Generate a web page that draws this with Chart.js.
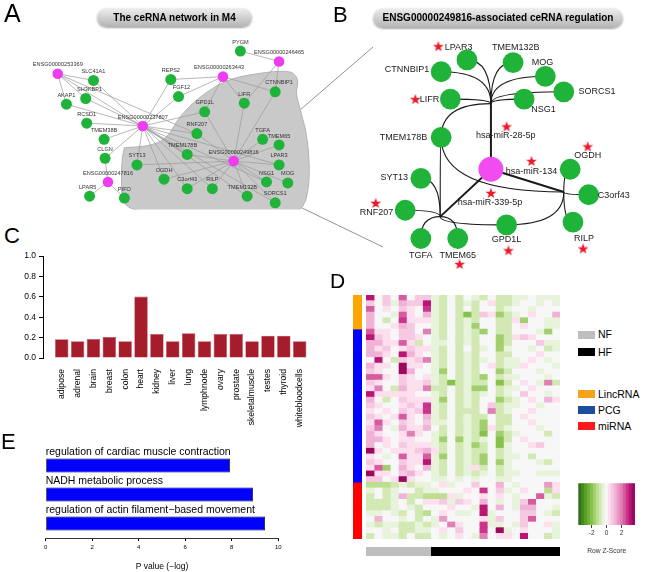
<!DOCTYPE html>
<html>
<head>
<meta charset="utf-8">
<title>ceRNA network in M4</title>
<script src="https://cdn.jsdelivr.net/npm/chart.js@4.4.1/dist/chart.umd.min.js"></script>
<style>
  body { margin: 0; background: #fff; }
  #fig { position: relative; width: 650px; height: 572px; overflow: hidden; font-family: "Liberation Sans", Arial, sans-serif; color: #000; }
  #fig canvas, #fig .txt, #fig svg { position: absolute; }
  .panel { line-height: 1; }
  .bubble { border-radius: 10px; text-align: center; font-weight: bold; font-size: 10px;
            background: linear-gradient(#efefef, #b3b3b3); box-shadow: 0 1px 2px rgba(0,0,0,0.35); }
  .key { width: 17px; height: 8px; }
  .keytxt { font-size: 10.5px; line-height: 12px; }
</style>
</head>
<body>
<div id="fig">
  <svg width="650" height="572" style="left:0;top:0">
    <line x1="300" y1="110" x2="373" y2="47" stroke="#777" stroke-width="0.8"/>
    <line x1="300" y1="207" x2="383" y2="247" stroke="#777" stroke-width="0.8"/>
  </svg>

  <canvas id="netA" width="330" height="215" style="left:0;top:0"></canvas>
  <canvas id="netB" width="320" height="282" style="left:330px;top:0"></canvas>
  <canvas id="barC" width="320" height="180" style="left:0;top:248px"></canvas>
  <canvas id="rowAnn" width="9" height="244" style="left:353px;top:295px"></canvas>
  <canvas id="heat" width="194" height="244" style="left:366px;top:295px"></canvas>
  <canvas id="colAnn" width="194" height="9" style="left:366px;top:547px"></canvas>
  <canvas id="zKey" width="75" height="75" style="left:570px;top:480px"></canvas>
  <canvas id="barE" width="330" height="132" style="left:0;top:440px"></canvas>

  <div class="txt panel" style="left:4px;top:1px;font-size:25px">A</div>
  <div class="txt panel" style="left:333px;top:4px;font-size:22px">B</div>
  <div class="txt panel" style="left:4px;top:225px;font-size:22px">C</div>
  <div class="txt panel" style="left:330px;top:270px;font-size:21px">D</div>
  <div class="txt panel" style="left:1px;top:431px;font-size:22px">E</div>

  <div class="txt bubble" style="left:97px;top:8px;width:155px;height:19px;line-height:19px">The ceRNA network in M4</div>
  <div class="txt bubble" style="left:373px;top:8px;width:250px;height:20px;line-height:20px">ENSG00000249816-associated ceRNA regulation</div>

  <div class="txt key" style="left:578px;top:331px;background:#bebebe"></div>
  <div class="txt keytxt" style="left:598px;top:328px">NF</div>
  <div class="txt key" style="left:578px;top:348px;background:#000"></div>
  <div class="txt keytxt" style="left:598px;top:346px">HF</div>
  <div class="txt key" style="left:578px;top:390px;background:#f7a21b"></div>
  <div class="txt keytxt" style="left:598px;top:388px">LincRNA</div>
  <div class="txt key" style="left:578px;top:406px;background:#1d4d9f"></div>
  <div class="txt keytxt" style="left:598px;top:404px">PCG</div>
  <div class="txt key" style="left:578px;top:422px;background:#ff1a1a"></div>
  <div class="txt keytxt" style="left:598px;top:420px">miRNA</div>
</div>

<script>
// ---------- data ----------

// A: ceRNA network in module M4
const lincA = ['ENSG00000253369', 'ENSG00000263443', 'ENSG00000246465', 'ENSG00000237807', 'ENSG00000249816', 'ENSG00000247816'];
const pcgA = ['PYGM', 'SLC41A1', 'REPS2', 'CTNNBIP1', 'SH3KBP1', 'FGF12', 'AKAP1', 'LIFR', 'GPD1L', 'RCSD1', 'RNF207',
  'TMEM38B', 'TGFA', 'TMEM65', 'TMEM178B', 'CLGN', 'SYT13', 'LPAR3', 'OGDH', 'C3orf43', 'RILP', 'NSG1', 'MOG',
  'TMEM132B', 'SORCS1', 'LPAR5', 'PIFO'];
const linksA = {
  'ENSG00000253369': ['SLC41A1', 'SH3KBP1', 'AKAP1', 'RNF207', 'TMEM178B'],
  'ENSG00000237807': ['SLC41A1', 'SH3KBP1', 'AKAP1', 'RCSD1', 'TMEM38B', 'CLGN', 'REPS2', 'FGF12', 'GPD1L', 'RNF207',
    'TMEM178B', 'SYT13', 'OGDH', 'C3orf43', 'RILP', 'TMEM132B', 'NSG1', 'SORCS1', 'LPAR3'],
  'ENSG00000263443': ['REPS2', 'FGF12', 'GPD1L', 'LIFR', 'CTNNBIP1'],
  'ENSG00000246465': ['PYGM', 'CTNNBIP1', 'LIFR'],
  'ENSG00000249816': ['GPD1L', 'RNF207', 'TMEM178B', 'SYT13', 'OGDH', 'C3orf43', 'RILP', 'TGFA', 'TMEM65', 'LPAR3',
    'NSG1', 'MOG', 'TMEM132B', 'SORCS1', 'CTNNBIP1', 'LIFR'],
  'ENSG00000247816': ['CLGN', 'LPAR5', 'PIFO']
};

// B: miRNAs shared by ENSG00000249816 and its partner genes
const hubB = 'ENSG00000249816';
const mirnaB = ['hsa-miR-28-5p', 'hsa-miR-134', 'hsa-miR-339-5p'];
const targetsB = {
  'hsa-miR-28-5p': ['LPAR3', 'TMEM132B', 'CTNNBIP1', 'MOG', 'SORCS1', 'NSG1', 'LIFR', 'TMEM178B'],
  'hsa-miR-134': ['OGDH', 'C3orf43', 'RILP', 'TMEM178B', 'GPD1L'],
  'hsa-miR-339-5p': ['SYT13', 'RNF207', 'TGFA', 'TMEM65', 'TMEM178B', 'GPD1L']
};
const genesB = ['LPAR3', 'TMEM132B', 'CTNNBIP1', 'MOG', 'SORCS1', 'NSG1', 'LIFR', 'TMEM178B', 'OGDH', 'SYT13',
  'C3orf43', 'RNF207', 'RILP', 'GPD1L', 'TGFA', 'TMEM65'];
const starredB = ['LPAR3', 'LIFR', 'OGDH', 'RNF207', 'RILP', 'GPD1L', 'TMEM65', 'hsa-miR-28-5p', 'hsa-miR-134', 'hsa-miR-339-5p'];

// C: tissue specificity
const tissues = ['adipose', 'adrenal', 'brain', 'breast', 'colon', 'heart', 'kidney', 'liver', 'lung', 'lymphnode',
  'ovary', 'prostate', 'skeletalmuscle', 'testes', 'thyroid', 'whitebloodcells'];
const tissueScore = [0.184, 0.165, 0.187, 0.206, 0.165, 0.603, 0.235, 0.165, 0.242, 0.165, 0.235, 0.235, 0.165, 0.219, 0.219, 0.165];

// D: heatmap, rows = RNAs, columns = samples (row z-scores)
const rowGroups = ['LincRNA', 'PCG', 'miRNA'];
const rowGroupSizes = [6, 27, 10];
const sampleGroups = ['NF', 'HF'];
const sampleGroupSizes = [8, 16];
const zScores = [
  [3.2,0,0.8,0,2.2,0,0.8,0.8, -0.3,-0.7,0,-0.7,0,-0.3,-0.7,0, -0.7,-0.7,-0.3,-0.3,0,-0.3,-0.3,-0.3],
  [0.8,0,0.8,-0.3,1.4,0.8,0.8,3.2, -0.3,-0.7,0,-0.7,-0.3,-0.7,0,0.4, -0.7,-0.7,-0.3,0,0,-0.3,0,-0.3],
  [2.2,0,0.4,0,0.8,0.4,0,2.6, -0.3,-0.7,0,-0.7,0,-0.7,0,0, -0.7,-0.3,0,0,-0.3,0,0,0],
  [1.4,0,0,-0.3,2.2,0.4,0,1.4, -0.3,-0.7,0,-0.7,-2.2,-0.7,0.8,0.4, -1.5,-0.7,-0.3,0,0.4,0,0,1.4],
  [1.4,0,-0.7,0,2.6,0.4,0.4,0.4, -0.3,-0.7,0,-0.7,-0.3,-0.7,0,0, -0.7,-0.7,0.4,-1.5,0,0,-0.3,-0.3],
  [1.4,0,0,0.4,1.4,0.8,0,0, -0.3,-0.7,0,-0.7,-0.3,-1.5,0,0, -0.7,-0.7,0,0.4,0,0,-0.3,-0.3],
  [2.2,0.4,0.4,0,0.8,0.8,0,1.8, -0.3,-0.7,0,-0.7,-0.3,-0.7,-1.5,0, -0.7,-0.7,0,0,0,-0.3,-1.5,0],
  [3.2,0.8,0.4,0,0.8,0.8,0.4,0, -0.3,-0.7,0,-0.7,-0.3,-0.7,0,0, -1.5,-0.7,0.4,0.8,0.4,0,0,0],
  [1.4,1.0,0.4,0.4,2.2,0.4,-0.7,0, -0.3,-0.3,0,-0.7,-0.3,-0.7,0,0, -1.5,-0.7,0,0,0,0.8,-0.3,-0.3],
  [1.0,0.4,0.8,0,0.4,0.8,0.4,0.4, -0.3,-0.7,0,-0.7,0,-0.7,-0.3,0, -1.5,-0.3,0,0,-0.3,0,-0.7,-0.3],
  [1.0,1.0,0.4,0,3.2,1.4,0.4,0, -0.3,-0.7,0,-0.7,-0.3,-0.7,0,0, -0.7,-0.7,0,0,0,0.4,0,0],
  [0,3.0,0,-0.7,0.8,0.4,0.8,2.0, -0.3,-0.7,0,-0.7,-0.3,-0.7,-0.3,0, -0.7,-0.3,-0.3,0,0.4,0,-0.3,0],
  [1.4,0.4,0.4,0,3.4,0.4,0.4,0, -0.3,-0.7,0,-0.7,-0.3,-0.7,0,0.4, -0.7,-0.3,-0.3,0.4,0,0,0,-0.3],
  [0.8,0.4,0,0,3.4,1.4,0,0, -0.3,-1.5,0,-0.7,-0.3,-0.7,0,0, -1.5,-0.7,0,0,0,-0.3,0,0],
  [2.2,2.2,0.4,0,0.8,0.4,0,0.4, -0.3,-0.7,0,-0.7,-0.3,-0.7,-1.5,0, -0.7,-0.3,-0.3,0,0,0,-0.3,0],
  [0.8,0.4,0,0,0.8,0.4,0.4,0.8, -0.3,-0.7,-2.2,-0.7,-0.3,-0.7,-0.7,0, -2.2,-0.7,0,0.4,0,-0.3,2.0,-1.0],
  [0.4,1.8,0,-0.7,1.0,0.4,0.4,1.8, -0.7,-0.7,0,-0.7,-0.3,-1.5,-1.5,0, -0.7,-0.3,-0.3,0,0.4,0,0,0],
  [3.2,0.4,0.4,0.4,0.4,0.4,0,0, -0.3,-0.7,0,-0.7,-0.3,-0.7,-0.3,0, -0.7,-0.3,0,0.8,0,0,-0.3,0],
  [1.4,0,-0.7,0,0.8,0.4,0.4,0.4, -0.3,-1.5,0,-0.7,-0.3,-0.7,0,0, -1.5,-0.7,-0.3,0,0.4,0,1.4,0.4],
  [0.8,0.4,0,0,0.4,0.8,0.4,2.6, -0.3,-0.7,0,-0.7,-0.3,-0.7,0,0.8, -0.7,-0.3,-0.3,0,0,-0.3,0,0],
  [0.4,0,0.4,0,0.8,0.4,0.8,2.6, -0.3,-0.7,0,-0.7,-0.7,-0.7,0,2.0, -0.7,-0.3,0,0,0.4,0,0,0],
  [0.8,0.4,0,0.4,2.2,0.4,0,1.4, -0.3,-0.7,0,-0.7,-0.3,-0.7,-1.0,0, -0.7,-0.7,0,0.4,0,0,0,0],
  [0.4,2.2,0.4,0,0.8,0.4,0,0.8, -0.3,-0.3,0,-0.7,-0.3,-0.7,-1.5,0, -1.0,-0.7,0,0,0.4,0,0,0],
  [0.8,2.0,0,-0.3,1.4,0.4,0.4,1.4, 0,-0.7,0,-0.7,-0.3,-0.7,-1.5,0.4, -0.7,-0.3,0,0,0,-0.3,0,0],
  [1.4,0.4,0,0,0.4,1.8,0.4,0, -0.3,-0.7,0,-0.7,-0.3,-0.7,-2.2,0, -1.8,-0.7,-0.3,0,0,0,-0.7,0],
  [1.4,1.0,0.4,0,0.4,0.4,0,0, -0.3,-1.5,0,-1.5,-0.3,-0.7,-0.3,0, -2.0,-0.7,0,0.4,0,0,0,0],
  [1.0,0,0.4,0,0.8,0.4,0.4,0.4, -0.3,-0.7,0,-0.7,-0.3,-1.5,-0.7,0, -2.0,-0.3,0,0,0.4,0.8,0,0],
  [3.4,0.4,0,0.4,0.4,0.4,0.8,1.0, 0.4,-0.7,0,-0.7,-0.3,-0.7,-1.0,0, -0.7,-0.3,0,0,0,0,0,0],
  [0.4,0,-0.3,0,2.2,0.4,0.4,2.2, -0.3,-1.5,0,-0.7,-0.3,-0.7,-1.5,0, -0.7,-0.3,-0.3,0,-0.7,0,0,0],
  [0.8,0.4,0,0,0.8,0.4,0.4,3.0, -0.3,-0.7,0,-0.7,-0.3,-0.7,-1.5,0, -1.5,-0.3,0,0,0,-0.3,-0.7,0],
  [0.4,2.2,-1.5,0,1.4,0.4,0,1.0, -0.3,-0.7,0,-0.7,-0.3,0.4,-1.0,0, -0.7,-0.3,0,0,0,0,0,0],
  [3.4,0.4,0.4,0,0.8,1.0,0.4,0, -0.3,-0.7,0,-0.7,-0.3,-0.7,-0.3,0, -0.7,-0.3,-0.3,0,0,-0.3,-0.3,-0.3],
  [0.8,0.8,0,0.4,3.4,0.4,0,0, -0.3,-0.3,0,-0.3,0,-0.3,0,0, -0.3,-0.3,0,0,0,0,0,0],
  [-1.2,-1.2,-1.2,-0.7,-0.3,-0.7,-0.3,-0.3, 0,0.4,-0.3,0,0,0.8,0,0, 1.4,0,-0.3,0,0,0,1.6,0.4],
  [-0.3,0,-0.7,-0.3,0,0,-0.7,-0.3, -0.3,0,0,0,0.4,0,2.6,0, 0.8,-0.3,0,0.4,0,0,-1.2,0.4],
  [-0.7,0,-0.7,-0.3,1.0,-0.7,-0.7,-1.2, -1.2,-1.2,0.4,-0.3,0,0,0.4,0, 0.4,0,-0.3,0,0,2.4,-0.3,-1.0],
  [-0.7,-0.7,-0.7,-0.3,0,-0.7,0,0.4, 0.4,0.8,-0.3,0.8,0.4,0,1.4,0, -0.3,0,-0.3,0.8,2.2,0,0,0],
  [-0.7,-0.7,-0.7,-0.3,0,-0.3,-0.7,0, 0,0,0.4,0,0,-0.3,3.2,0, 1.4,0,-0.3,1.0,1.4,0,0,-0.3],
  [-0.3,-0.3,0,-0.3,-0.7,0,-0.7,-1.2, 0,0.4,0,-0.3,-0.3,0,3.2,-0.3, 0,0,0,0.8,0.8,0,-0.3,-0.7],
  [0,1.0,0,0,-0.3,0,-0.7,0, -0.3,1.6,0,0,0,0,0.4,-0.3, 0.8,0,0,0.8,2.2,0,0,0],
  [-0.3,-0.7,-0.3,-0.3,-0.7,-0.7,-0.3,-0.7, -0.3,0,1.8,0.4,0,0,2.6,-0.3, -0.3,0,-0.3,0.8,0,0,0.4,-0.3],
  [0,0,-0.3,0,-0.7,-0.7,-0.3,-0.3, 0,0.4,0,0.8,0,0,2.6,0, 3.4,-0.3,0,0.4,0,0,0,-0.3],
  [-0.7,0,-0.3,-0.3,-0.7,0,-0.7,-0.7, 0,-0.3,0,0.4,0,-0.3,1.8,0, 0.4,0.4,0,3.0,0,0,-0.7,-0.3]
];
const zBins = [-3.6, -3.2, -2.8, -2.4, -2.0, -1.6, -1.2, -0.8, -0.4, 0, 0.4, 0.8, 1.2, 1.6, 2.0, 2.4, 2.8, 3.2, 3.6];

// E: GO enrichment
const goTerms = ['regulation of cardiac muscle contraction', 'NADH metabolic process', 'regulation of actin filament\u2212based movement'];
const goLogP = [7.92, 8.91, 9.43];

// ---------- layout (page pixels) ----------
const posA = {
  'ENSG00000253369': [54, 72], 'ENSG00000263443': [225, 75], 'ENSG00000246465': [283, 59],
  'ENSG00000237807': [142, 127], 'ENSG00000249816': [236, 164], 'ENSG00000247816': [106, 186],
  PYGM: [243, 48], SLC41A1: [91, 79], REPS2: [171, 78], CTNNBIP1: [279, 91], SH3KBP1: [83, 98], FGF12: [179, 96],
  AKAP1: [63, 104], LIFR: [247, 103], GPD1L: [206, 112], RCSD1: [84, 124], RNF207: [198, 135], TMEM38B: [102, 141],
  TGFA: [266, 141], TMEM65: [283, 147], TMEM178B: [188, 157], CLGN: [103, 161], SYT13: [136, 168], LPAR3: [283, 168],
  OGDH: [164, 183], C3orf43: [188, 193], RILP: [214, 193], NSG1: [270, 186], MOG: [292, 187], TMEM132B: [250, 201],
  SORCS1: [279, 208], LPAR5: [87, 201], PIFO: [123, 203]
};
const labelShiftA = { CTNNBIP1: 4, SH3KBP1: 4, FGF12: 3, TMEM178B: -5, TMEM132B: -5, LPAR5: -2, 'ENSG00000263443': -4 };
const blobA = [[123, 150], [150, 147], [166, 139], [181, 117], [201, 97], [228, 80], [260, 72], [294, 70], [302, 78],
  [301, 92], [305, 110], [311, 135], [314, 165], [313, 193], [307, 212], [292, 220], [255, 219], [200, 218],
  [160, 217], [133, 215], [122, 206], [120, 180], [121, 160], [123, 150]];

const posB = {
  'ENSG00000249816': [491, 172],
  'hsa-miR-28-5p': [491, 100], 'hsa-miR-134': [570, 197], 'hsa-miR-339-5p': [436, 224],
  LPAR3: [465, 52], TMEM132B: [515, 55], CTNNBIP1: [437, 65], MOG: [550, 70], SORCS1: [570, 87], NSG1: [527, 95],
  LIFR: [447, 95], TMEM178B: [437, 137], OGDH: [577, 172], SYT13: [415, 182], C3orf43: [597, 200],
  RNF207: [398, 217], RILP: [580, 230], GPD1L: [508, 233], TGFA: [415, 248], TMEM65: [455, 248]
};
const labelB = {
  LPAR3: [456, 38, 'center'], TMEM132B: [518, 38, 'center'], CTNNBIP1: [424, 63, 'right'], MOG: [547, 55, 'center'],
  SORCS1: [586, 87, 'left'], NSG1: [548, 106, 'center'], LIFR: [435, 96, 'right'], TMEM178B: [422, 137, 'right'],
  OGDH: [596, 157, 'center'], SYT13: [401, 181, 'right'], C3orf43: [607, 201, 'left'], RNF207: [367, 220, 'center'],
  RILP: [592, 248, 'center'], GPD1L: [508, 249, 'center'], TGFA: [415, 267, 'center'], TMEM65: [455, 267, 'center'],
  'hsa-miR-28-5p': [507, 135, 'center'], 'hsa-miR-134': [535, 174, 'center'], 'hsa-miR-339-5p': [490, 209, 'center']
};
const starB = {
  LPAR3: [434, 37], LIFR: [409, 95], OGDH: [596, 147], RNF207: [366, 209], RILP: [591, 259], GPD1L: [510, 261],
  TMEM65: [457, 276], 'hsa-miR-28-5p': [508, 125], 'hsa-miR-134': [535, 163], 'hsa-miR-339-5p': [491, 198]
};
// curves that leave the miRNA junction sideways instead of vertically
const sidewaysB = ['hsa-miR-28-5p|TMEM178B', 'hsa-miR-134|TMEM178B', 'hsa-miR-339-5p|TGFA', 'hsa-miR-339-5p|TMEM65'];

// ---------- helpers ----------
Chart.defaults.font.family = '"Liberation Sans", Arial, sans-serif';
Chart.defaults.color = '#000';
Chart.defaults.animation = false;
Chart.defaults.responsive = false;
Chart.defaults.events = [];
Chart.defaults.plugins.legend.display = false;
Chart.defaults.plugins.tooltip.enabled = false;

function pixelScales(x0, x1, y0, y1) {
  return {
    x: { type: 'linear', min: x0, max: x1, display: false },
    y: { type: 'linear', min: y0, max: y1, reverse: true, display: false }
  };
}
const toPt = (pos, n) => ({ x: pos[n][0], y: pos[n][1] });

function textPlugin(id, items, font, color) {
  return {
    id,
    afterDatasetsDraw(chart) {
      const { ctx, scales: { x, y } } = chart;
      ctx.save();
      ctx.font = font;
      ctx.fillStyle = color;
      ctx.textBaseline = 'middle';
      items.forEach(it => {
        ctx.textAlign = it.align || 'center';
        ctx.fillText(it.text, x.getPixelForValue(it.x), y.getPixelForValue(it.y));
      });
      ctx.restore();
    }
  };
}

const zStops = [[0, '#276419'], [0.1, '#4d9221'], [0.22, '#7fbc41'], [0.35, '#c0e093'], [0.45, '#e9f4dd'],
  [0.5, '#f7f7f7'], [0.55, '#fde0ef'], [0.65, '#f1b6da'], [0.78, '#de77ae'], [0.9, '#c51b7d'], [1, '#8e0152']];
function hexRgb(h) { return [1, 3, 5].map(i => parseInt(h.substr(i, 2), 16)); }
function zColor(z) {
  const b = Math.max(-3.6, Math.min(3.6, Math.round(z / 0.4) * 0.4));
  const t = (b + 3.8) / 7.6;
  for (let i = 1; i < zStops.length; i++) {
    if (t <= zStops[i][0]) {
      const [t0, c0] = zStops[i - 1], [t1, c1] = zStops[i];
      const f = (t - t0) / (t1 - t0), a = hexRgb(c0), b2 = hexRgb(c1);
      return 'rgb(' + a.map((v, k) => Math.round(v + (b2[k] - v) * f)).join(',') + ')';
    }
  }
  return zStops[zStops.length - 1][1];
}

// ---------- A: network ----------
const edgePtsA = [];
Object.keys(linksA).forEach(l => linksA[l].forEach(g => {
  edgePtsA.push(toPt(posA, l), toPt(posA, g), { x: null, y: null });
}));
const labelsA = lincA.concat(pcgA).map(n => ({
  text: n, x: posA[n][0] + (labelShiftA[n] || 0), y: posA[n][1] - 9.5
}));

new Chart(document.getElementById('netA'), {
  type: 'scatter',
  data: {
    datasets: [
      { data: lincA.map(n => toPt(posA, n)), pointRadius: 5.3, backgroundColor: '#ee3cf0', borderWidth: 0, order: 1 },
      { data: pcgA.map(n => toPt(posA, n)), pointRadius: 5.5, backgroundColor: '#1fb33a', borderWidth: 0, order: 1 },
      { data: edgePtsA, showLine: true, spanGaps: false, pointRadius: 0, borderColor: '#9a9a9a', borderWidth: 0.7, order: 2 },
      { data: blobA.map(p => ({ x: p[0], y: p[1] })), showLine: true, fill: 'shape', tension: 0.35, pointRadius: 0,
        backgroundColor: '#c9c9c9', borderColor: '#b2b2b2', borderWidth: 1, order: 3 }
    ]
  },
  options: { scales: pixelScales(0, 330, 0, 215), layout: { padding: 0 } },
  plugins: [textPlugin('labelsA', labelsA, '5.6px "Liberation Sans", Arial', '#333')]
});

// ---------- B: miRNA-mediated regulation ----------
const starImg = document.createElement('canvas');
starImg.width = 12; starImg.height = 12;
(function () {
  const c = starImg.getContext('2d');
  c.beginPath();
  for (let i = 0; i < 10; i++) {
    const r = i % 2 ? 2.3 : 5.7, a = -Math.PI / 2 + i * Math.PI / 5;
    c.lineTo(6 + r * Math.cos(a), 6.5 + r * Math.sin(a));
  }
  c.closePath();
  c.fillStyle = '#ea1a2a';
  c.fill();
})();

const curvesB = {
  id: 'curvesB',
  beforeDatasetsDraw(chart) {
    const { ctx, scales: { x, y } } = chart;
    const P = n => [x.getPixelForValue(posB[n][0]), y.getPixelForValue(posB[n][1])];
    ctx.save();
    ctx.strokeStyle = '#1a1a1a';
    ctx.lineWidth = 1.1;
    mirnaB.forEach(m => targetsB[m].forEach(g => {
      const [jx, jy] = P(m), [nx, ny] = P(g);
      const side = sidewaysB.includes(m + '|' + g);
      ctx.beginPath();
      ctx.moveTo(jx, jy);
      ctx.quadraticCurveTo(side ? nx : jx, side ? jy : ny, nx, ny);
      ctx.stroke();
    }));
    ctx.lineWidth = 2;
    const [hx, hy] = P(hubB);
    mirnaB.forEach(m => {
      const [jx, jy] = P(m);
      ctx.beginPath();
      ctx.moveTo(hx, hy);
      ctx.lineTo(jx, jy);
      ctx.stroke();
    });
    ctx.restore();
  }
};
const labelsB = genesB.concat(mirnaB).map(n => ({ text: n, x: labelB[n][0], y: labelB[n][1], align: labelB[n][2] }));

new Chart(document.getElementById('netB'), {
  type: 'scatter',
  data: {
    datasets: [
      { data: starredB.map(n => ({ x: starB[n][0], y: starB[n][1] })), pointStyle: starImg, pointRadius: 5 },
      { data: [toPt(posB, hubB)], pointRadius: 12.5, backgroundColor: '#f04cf0', borderWidth: 0 },
      { data: genesB.map(n => toPt(posB, n)), pointRadius: 10.4, backgroundColor: '#1fb33a', borderWidth: 0 }
    ]
  },
  options: { scales: pixelScales(330, 650, 0, 282), layout: { padding: 0 } },
  plugins: [curvesB, textPlugin('labelsB', labelsB, '9px "Liberation Sans", Arial', '#1a1a1a')]
});

// ---------- C: tissue bar chart ----------
new Chart(document.getElementById('barC'), {
  type: 'bar',
  data: {
    datasets: [{
      data: tissueScore.map((v, i) => ({ x: i, y: v })),
      backgroundColor: '#a51d2c', borderColor: '#c4505c', borderWidth: 0.6,
      barPercentage: 0.85, categoryPercentage: 1
    }]
  },
  options: {
    layout: { padding: { top: 8, right: 12.4, left: 0, bottom: 0 } },
    scales: {
      x: {
        type: 'linear', min: -1.18, max: 15.5, offset: false,
        grid: { display: false, offset: false }, border: { display: false },
        ticks: {
          stepSize: 1, autoSkip: false, includeBounds: false, maxTicksLimit: 40,
          minRotation: 90, maxRotation: 90, padding: 3, font: { size: 8.6 },
          callback: v => tissues[v] ?? ''
        },
        afterFit: s => { s.height = 70; }
      },
      y: {
        min: 0, max: 1,
        ticks: { stepSize: 0.2, autoSkip: false, padding: 3, font: { size: 8.5 }, callback: v => v.toFixed(1) },
        grid: { drawOnChartArea: false, tickLength: 4, color: '#000' },
        border: { color: '#000', width: 1 },
        afterFit: s => { s.width = 43; }
      }
    }
  }
});

// ---------- D: heatmap ----------
const nCols = zScores[0].length;
new Chart(document.getElementById('heat'), {
  type: 'bar',
  data: {
    labels: zScores.map((_, i) => 'row' + (i + 1)),
    datasets: zScores[0].map((_, c) => ({
      data: zScores.map(() => 1),
      backgroundColor: zScores.map(r => zColor(r[c])),
      borderWidth: 0, barPercentage: 1, categoryPercentage: 1
    }))
  },
  options: {
    indexAxis: 'y',
    layout: { padding: 0 },
    scales: {
      x: { stacked: true, min: 0, max: nCols, display: false },
      y: { stacked: true, display: false }
    }
  }
});

const rowGroupColors = ['#ffa500', '#0000ff', '#ff0000'];
new Chart(document.getElementById('rowAnn'), {
  type: 'bar',
  data: {
    labels: [''],
    datasets: rowGroups.map((g, i) => ({
      label: g, data: [rowGroupSizes[i]], backgroundColor: rowGroupColors[i],
      borderWidth: 0, barPercentage: 1, categoryPercentage: 1
    }))
  },
  options: {
    layout: { padding: 0 },
    scales: {
      x: { stacked: true, display: false },
      y: { stacked: true, display: false, reverse: true, min: 0, max: rowGroupSizes.reduce((a, b) => a + b, 0) }
    }
  }
});

const sampleColors = ['#bebebe', '#000000'];
new Chart(document.getElementById('colAnn'), {
  type: 'bar',
  data: {
    labels: [''],
    datasets: sampleGroups.map((g, i) => ({
      label: g, data: [sampleGroupSizes[i]], backgroundColor: sampleColors[i],
      borderWidth: 0, barPercentage: 1, categoryPercentage: 1
    }))
  },
  options: {
    indexAxis: 'y',
    layout: { padding: 0 },
    scales: {
      x: { stacked: true, display: false, min: 0, max: sampleGroupSizes.reduce((a, b) => a + b, 0) },
      y: { stacked: true, display: false }
    }
  }
});

new Chart(document.getElementById('zKey'), {
  type: 'bar',
  data: {
    datasets: [{
      data: zBins.map(b => ({ x: b, y: 1 })),
      backgroundColor: zBins.map(zColor), borderWidth: 0, barPercentage: 1, categoryPercentage: 1
    }]
  },
  options: {
    layout: { padding: { left: 8.3, right: 10, top: 3.3, bottom: 0 } },
    scales: {
      x: {
        type: 'linear', min: -3.8, max: 3.8, offset: false,
        grid: { drawOnChartArea: false, tickLength: 3, color: '#444', offset: false }, border: { display: false },
        ticks: { stepSize: 2, includeBounds: false, padding: 1, font: { size: 6.5 }, color: '#333' },
        title: { display: true, text: 'Row Z-Score', font: { size: 6.7 }, color: '#333', padding: { top: 1, bottom: 0 } },
        afterFit: s => { s.height = 30; }
      },
      y: { min: 0, max: 1, display: false }
    }
  }
});

// ---------- E: GO enrichment ----------
const termLabels = {
  id: 'termLabels',
  afterDatasetsDraw(chart) {
    const { ctx } = chart, meta = chart.getDatasetMeta(0), x0 = chart.scales.x.getPixelForValue(0);
    ctx.save();
    ctx.font = '10.5px "Liberation Sans", Arial';
    ctx.fillStyle = '#000';
    ctx.textAlign = 'left';
    ctx.textBaseline = 'alphabetic';
    meta.data.forEach((bar, i) => ctx.fillText(goTerms[i], x0, bar.y - bar.height / 2 - 3));
    ctx.restore();
  }
};
new Chart(document.getElementById('barE'), {
  type: 'bar',
  data: {
    labels: goTerms,
    datasets: [{
      data: goLogP, backgroundColor: '#0000ff', borderColor: '#000', borderWidth: 0.8, borderSkipped: false,
      barPercentage: 0.49, categoryPercentage: 1
    }]
  },
  options: {
    indexAxis: 'y',
    layout: { padding: { left: 45.7, right: 51.7, top: 11, bottom: 0 } },
    scales: {
      x: {
        min: 0, max: 10,
        ticks: { stepSize: 2, padding: 3, font: { size: 6 } },
        grid: { drawOnChartArea: false, tickLength: 3, color: '#000' },
        border: { color: '#000', width: 0.8 },
        title: { display: true, text: 'P value (\u2212log)', font: { size: 8.5 }, padding: { top: 5, bottom: 0 } },
        afterFit: s => { s.height = 34; }
      },
      y: { display: false }
    }
  },
  plugins: [termLabels]
});
</script>
</body>
</html>
